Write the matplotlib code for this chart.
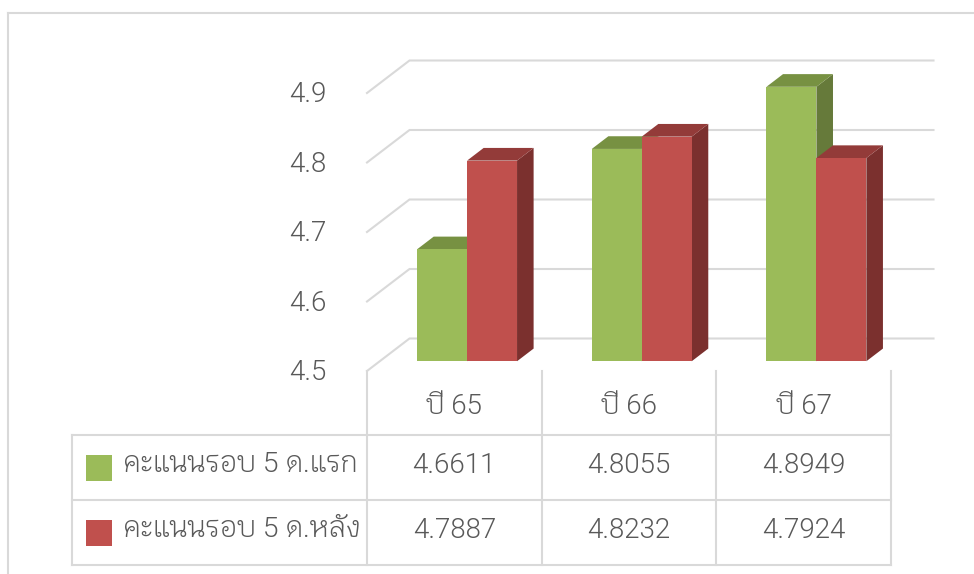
import matplotlib
matplotlib.use("Agg")
import matplotlib.pyplot as plt
from matplotlib.lines import Line2D
from matplotlib.patches import Rectangle
from matplotlib.transforms import ScaledTranslation

categories = ["ปี 65", "ปี 66", "ปี 67"]
series_names = ["คะแนนรอบ 5 ด.แรก", "คะแนนรอบ 5 ด.หลัง"]
first_values = [4.6611, 4.8055, 4.8949]
second_values = [4.7887, 4.8232, 4.7924]
y_ticks = [4.5, 4.6, 4.7, 4.8, 4.9]

W, H = 974, 574
GRID = "#D9D9D9"
TEXT = "#595959"
# front, top, side
GREEN = ("#9BBB59", "#779142", "#667A3A")
RED = ("#C0504D", "#933B39", "#7B302E")

# fake 3d: how far the back wall sits from the front plane, in data units
DEPTH_X = 0.2433
DEPTH_Y = 0.04676
BAR_FRONT = 0.30
BAR_BACK = 0.69
BAR_W = 0.286

# roboto for the digits, krub picks up the thai letters
plt.rcParams["font.family"] = ["Roboto", "Krub", "DejaVu Sans"]
plt.rcParams["font.weight"] = 300

fig = plt.figure(figsize=(W / 100, H / 100), dpi=100)


def px_axes(left, top, right, bottom):
    return fig.add_axes([left / W, 1 - bottom / H, (right - left) / W, (bottom - top) / H])


def project(x, y, d):
    return x + d * DEPTH_X, y + d * DEPTH_Y


def draw_bar(ax, x0, value, colors):
    x1 = x0 + BAR_W
    side = [project(x1, 4.5, BAR_FRONT), project(x1, 4.5, BAR_BACK),
            project(x1, value, BAR_BACK), project(x1, value, BAR_FRONT)]
    top = [project(x0, value, BAR_FRONT), project(x0, value, BAR_BACK),
           project(x1, value, BAR_BACK), project(x1, value, BAR_FRONT)]
    ax.fill(*zip(*side), color=colors[2], lw=0, clip_on=False, zorder=3)
    ax.fill(*zip(*top), color=colors[1], lw=0, clip_on=False, zorder=3)
    fx, fy = project(x0, 4.5, BAR_FRONT)
    ax.bar(fx, value - 4.5, BAR_W, bottom=fy, align="edge", color=colors[0], lw=0,
           clip_on=False, zorder=3)


ax = px_axes(367, 93, 891, 371)
ax.set_xlim(-0.5, 2.5)
ax.set_ylim(4.5, 4.9)
for s in ax.spines.values():
    s.set_visible(False)

# wall and gridlines
for v in y_ticks:
    xa, ya = project(-0.5, v, 0)
    xb, yb = project(-0.5, v, 1)
    xc, yc = project(2.5, v, 1)
    ax.plot([xa, xb, xc], [ya, yb, yc], color=GRID, lw=1.5, clip_on=False, zorder=1,
            solid_joinstyle="miter")

for i in range(len(categories)):
    draw_bar(ax, i - BAR_W, first_values[i], GREEN)
    draw_bar(ax, i, second_values[i], RED)

ax.set_yticks(y_ticks)
ax.set_yticklabels([f"{v:.1f}" for v in y_ticks])
ax.set_xticks(range(len(categories)))
ax.set_xticklabels(categories)
ax.tick_params(axis="y", length=0, pad=29.5, labelsize=20, labelcolor=TEXT)
ax.tick_params(axis="x", length=0, pad=25.5, labelsize=20, labelcolor=TEXT)
for t in ax.get_xticklabels():
    t.set_va("center")
for t in ax.get_yticklabels():
    t.set_va("center")
    t.set_transform(t.get_transform() + ScaledTranslation(0, -0.02, fig.dpi_scale_trans))

# data table below the chart, one unit per category and per row
tb = px_axes(367, 435, 891, 565)
tb.set_xlim(-0.5, 2.5)
tb.set_ylim(2, 0)
tb.axis("off")
table_left = -0.5 - 295 / 174.67
header_top = -64 / 65
for r in range(3):
    tb.plot([table_left, 2.5], [r, r], color=GRID, lw=1.5, clip_on=False)
tb.plot([table_left, table_left], [0, 2], color=GRID, lw=1.5, clip_on=False)
for c in range(4):
    tb.plot([c - 0.5, c - 0.5], [header_top, 2], color=GRID, lw=1.5, clip_on=False)

rows = [first_values, second_values]
colors = [GREEN, RED]
sw = 26 / 174.67
sh = 26 / 65
for r in range(2):
    tb.add_patch(Rectangle((table_left + 14 / 174.67, r + 0.5 - sh / 2), sw, sh,
                           color=colors[r][0], lw=0, clip_on=False))
    tb.text(table_left + 51 / 174.67, r + 0.46, series_names[r], fontsize=20.4, color=TEXT,
            ha="left", va="center")
    for i, v in enumerate(rows[r]):
        tb.text(i, r + 0.47, f"{v:.4f}", fontsize=20, color=TEXT, ha="center", va="center")

# chart area border, cropped on the right and bottom
fig.add_artist(Line2D([8 / W, 8 / W], [0, 1 - 13 / H], color=GRID, lw=1.5))
fig.add_artist(Line2D([8 / W, 1], [1 - 13 / H, 1 - 13 / H], color=GRID, lw=1.5))

fig.savefig("out.png", dpi=100)
